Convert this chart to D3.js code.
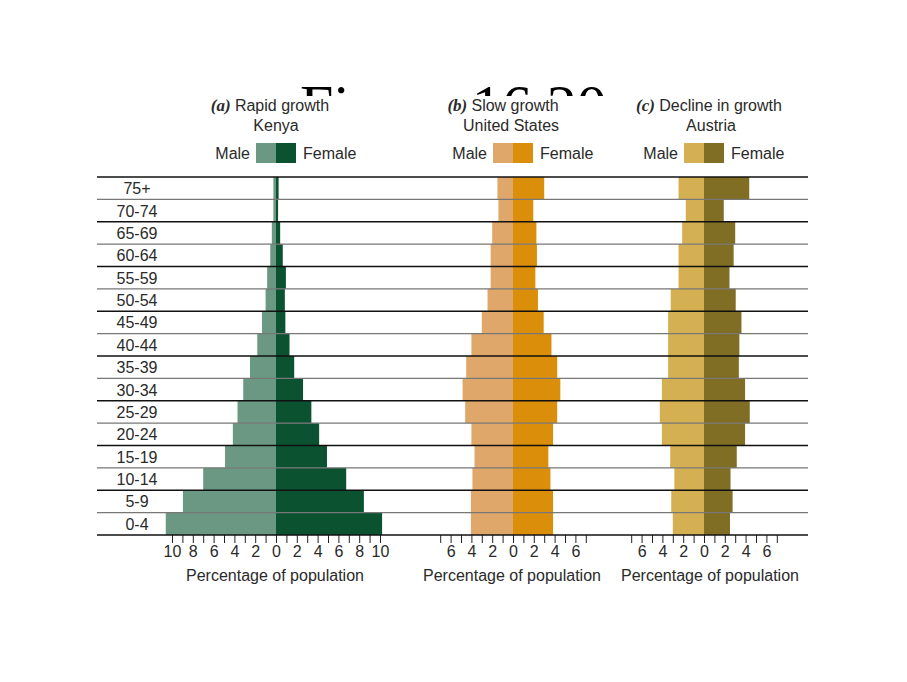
<!DOCTYPE html>
<html>
<head>
<meta charset="utf-8">
<script src="https://cdn.jsdelivr.net/npm/d3@7"></script>
<style>
  body { margin: 0; background: #fff; }
  text { font-family: "Liberation Sans", Arial, sans-serif; fill: #2a2a2a; }
</style>
</head>
<body>
<script>
// age groups, top to bottom as drawn
const ages = ['75+', '70-74', '65-69', '60-64', '55-59', '50-54', '45-49', '40-44',
  '35-39', '30-34', '25-29', '20-24', '15-19', '10-14', '5-9', '0-4'];

// percentage of population
const kenyaMale = [0.25, 0.25, 0.4, 0.55, 0.85, 1.0, 1.35, 1.8, 2.5, 3.15, 3.7, 4.15, 4.9, 7.0, 8.95, 10.6];
const kenyaFemale = [0.25, 0.2, 0.4, 0.65, 0.95, 0.85, 0.9, 1.3, 1.75, 2.6, 3.4, 4.15, 4.9, 6.75, 8.45, 10.2];
const usMale = [1.5, 1.4, 2.0, 2.15, 2.15, 2.45, 3.0, 4.0, 4.5, 4.85, 4.6, 4.0, 3.7, 3.9, 4.05, 4.05];
const usFemale = [3.0, 1.95, 2.25, 2.3, 2.15, 2.4, 2.95, 3.7, 4.25, 4.55, 4.25, 3.85, 3.4, 3.6, 3.85, 3.85];
const austriaMale = [2.45, 1.75, 2.1, 2.45, 2.45, 3.2, 3.45, 3.45, 3.45, 4.05, 4.25, 4.05, 3.25, 2.85, 3.15, 3.0];
const austriaFemale = [4.35, 1.9, 3.0, 2.85, 2.45, 3.05, 3.6, 3.4, 3.35, 3.95, 4.4, 3.95, 3.15, 2.55, 2.75, 2.5];

const kenyaTicks = d3.range(-10, 11);
const otherTicks = d3.range(-7, 8);

const panels = [
  { tag: '(a)', title: 'Rapid growth', place: 'Kenya', male: kenyaMale, female: kenyaFemale,
    ticks: kenyaTicks, maxLabel: 10, zero: 276, colors: ['#6b9882', '#0a5230'],
    headX: 270, placeX: 276, labelX: 275 },
  { tag: '(b)', title: 'Slow growth', place: 'United States', male: usMale, female: usFemale,
    ticks: otherTicks, maxLabel: 6, zero: 513, colors: ['#e0a76a', '#da8e0a'],
    headX: 503, placeX: 511, labelX: 512 },
  { tag: '(c)', title: 'Decline in growth', place: 'Austria', male: austriaMale, female: austriaFemale,
    ticks: otherTicks, maxLabel: 6, zero: 704, colors: ['#d4b052', '#806e24'],
    headX: 709, placeX: 711, labelX: 710 }
];

const width = 907, height = 682;
const unit = 10.4; // px per percentage point
const rowsTop = 177, rowsBottom = 535, lineLeft = 97, lineRight = 808;
const fs = '16px';

const svg = d3.select('body').append('svg')
  .attr('width', width)
  .attr('height', height);

// big title, mostly hidden under the panel headers
svg.append('clipPath').attr('id', 'titleClip')
  .append('rect').attr('x', 0).attr('y', 0).attr('width', width).attr('height', 96);

svg.append('text')
  .attr('clip-path', 'url(#titleClip)')
  .attr('x', 300)
  .attr('y', 126)
  .style('font-family', '"Liberation Serif", "Times New Roman", serif')
  .style('font-size', '60px')
  .style('fill', '#000')
  .text('Figure 16.20');

const y = d3.scaleBand()
  .domain(ages)
  .range([rowsTop, rowsBottom])
  .padding(0);

// age labels
svg.append('g').selectAll('text')
  .data(ages)
  .enter().append('text')
  .attr('x', 137)
  .attr('y', d => y(d) + y.bandwidth() / 2 + 6)
  .attr('text-anchor', 'middle')
  .style('font-size', fs)
  .text(d => d);

panels.forEach(p => {
  let half = (p.ticks[p.ticks.length - 1]) * unit;
  let x = d3.scaleLinear()
    .domain([p.ticks[0], p.ticks[p.ticks.length - 1]])
    .range([p.zero - half, p.zero + half]);

  // header
  let head = svg.append('text')
    .attr('x', p.headX)
    .attr('y', 111)
    .attr('text-anchor', 'middle')
    .style('font-size', fs);
  head.append('tspan')
    .style('font-family', '"Liberation Serif", "Times New Roman", serif')
    .style('font-style', 'italic')
    .style('font-weight', 'bold')
    .style('font-size', '17px')
    .text(p.tag + ' ');
  head.append('tspan').text(p.title);

  svg.append('text')
    .attr('x', p.placeX)
    .attr('y', 131)
    .attr('text-anchor', 'middle')
    .style('font-size', fs)
    .text(p.place);

  // legend
  svg.append('rect')
    .attr('x', p.zero - 20).attr('y', 143)
    .attr('width', 20).attr('height', 20)
    .attr('fill', p.colors[0]);
  svg.append('rect')
    .attr('x', p.zero).attr('y', 143)
    .attr('width', 20).attr('height', 20)
    .attr('fill', p.colors[1]);
  svg.append('text')
    .attr('x', p.zero - 26).attr('y', 159)
    .attr('text-anchor', 'end')
    .style('font-size', fs)
    .text('Male');
  svg.append('text')
    .attr('x', p.zero + 27).attr('y', 159)
    .style('font-size', fs)
    .text('Female');

  // bars
  let g = svg.append('g');
  g.selectAll('rect.male')
    .data(p.male)
    .enter().append('rect')
    .attr('class', 'male')
    .attr('x', d => x(-d))
    .attr('y', (d, i) => y(ages[i]))
    .attr('width', d => x(0) - x(-d))
    .attr('height', y.bandwidth())
    .attr('fill', p.colors[0]);
  g.selectAll('rect.female')
    .data(p.female)
    .enter().append('rect')
    .attr('class', 'female')
    .attr('x', x(0))
    .attr('y', (d, i) => y(ages[i]))
    .attr('width', d => x(d) - x(0))
    .attr('height', y.bandwidth())
    .attr('fill', p.colors[1]);

  // axis
  let axis = d3.axisBottom(x)
    .tickValues(p.ticks)
    .tickSize(8)
    .tickFormat(d => (d % 2 === 0 && Math.abs(d) <= p.maxLabel) ? Math.abs(d) : '');
  let ax = svg.append('g')
    .attr('transform', `translate(0,${rowsBottom})`)
    .call(axis);
  ax.select('.domain').remove();
  ax.selectAll('.tick line').attr('stroke', '#222');
  ax.selectAll('.tick text')
    .attr('y', 11)
    .style('font-size', fs)
    .style('font-family', '"Liberation Sans", Arial, sans-serif')
    .attr('fill', '#2a2a2a');

  svg.append('text')
    .attr('x', p.labelX)
    .attr('y', 581)
    .attr('text-anchor', 'middle')
    .style('font-size', fs)
    .text('Percentage of population');
});

// row separator lines, alternating black and gray
svg.append('g').selectAll('line')
  .data(d3.range(ages.length + 1))
  .enter().append('line')
  .attr('x1', lineLeft)
  .attr('x2', lineRight)
  .attr('y1', i => i < ages.length ? y(ages[i]) : rowsBottom)
  .attr('y2', i => i < ages.length ? y(ages[i]) : rowsBottom)
  .attr('stroke', i => i % 2 === 0 ? '#111' : '#777')
  .attr('stroke-width', 1.3);
</script>
</body>
</html>
